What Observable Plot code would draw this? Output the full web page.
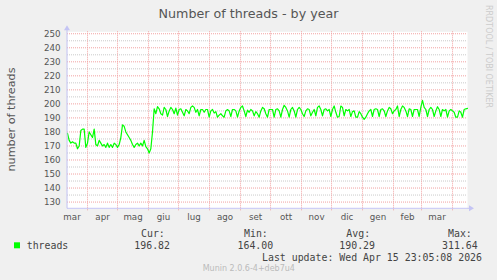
<!DOCTYPE html>
<html>
<head>
<meta charset="utf-8">
<script src="https://cdn.jsdelivr.net/npm/d3@7"></script>
<script src="https://cdn.jsdelivr.net/npm/@observablehq/plot@0.6"></script>
<style>
  html, body { margin: 0; padding: 0; background: #f0f0f0; }
  svg { display: block; }
</style>
</head>
<body>
<div id="chart"></div>
<script>
// ---- data ----
const seriesName = "threads";
const startTime = new Date(2025, 2, 11, 23, 5);   // 400 days before last update
const endTime = new Date(2026, 3, 15, 23, 5);
const stepHours = 40;
const values = [
  179,174,172,173,172,172,168,170,181,182,
  182,169,172,180,178,176,182,171,170,174,
  172,170,171,169,172,169,171,169,172,171,
  169,171,176,185,184,180,178,176,174,171,
  169,171,172,170,172,170,174,
  169.5,168,165,168,180,196.5,193,198,196.5,193,
  192,197.5,196,191,195,197.5,196,193,197,192,
  196,196.5,194,191.5,196,195,193,197.5,198.5,197.5,
  194,196,191.5,196,196,194,196,196,190.5,195,
  196,193.5,194.5,190.5,192,193,191.5,190.5,195,196,
  195,191,196,196,195,190.5,195,197.5,198.5,195,
  191,195.5,194,
  196,195,191.5,194.5,193,190.5,195,197.5,196.5,193,
  190.5,196,196,196,190.5,196,196.5,195,190.5,196,
  199,197.5,195,190.5,196,197.5,195,190.5,196,197.5,
  196,193,191,195,196.5,196,191.5,194,196,191.5,
  197.5,198.5,196,191.5,196,196.5,195,196,191,196,
  198.5,194,190.5,191,198.5,197.5,191.5,196,195,196,
  191,194.5,195,
  190.5,190.5,194.5,193,190.5,189,190.5,193,195,196,
  191,196,196.5,196,191,196,196.5,195,191,195,
  197.5,196.5,193,195,196,198.5,191,196,198.5,197.5,
  195,191,196.5,196,191,196,196,196,191,197.5,
  202.5,197.5,196,191,196,197.5,196,191,195,198,
  196,191,196,195,196,190.5,195,196,195,194,
  190.5,190.5,195,194,190.5,196,196.5,
  196.8
];
const monthLabels = ["mar","apr","mag","giu","lug","ago","set","ott","nov","dic","gen","feb","mar"];
const yMajorTicks = [130,140,150,160,170,180,190,200,210,220,230,240,250];
const yMinorTicks = [135,145,155,165,175,185,195,205,215,225,235,245];
const yDomain = [125.2, 251.4];
const legendHeaders = ["Cur:", "Min:", "Avg:", "Max:"];
const legendValues = ["196.82", "164.00", "190.29", "311.64"];
const titleText = "Number of threads - by year";
const yLabel = "number of threads";
const lastUpdate = "Last update: Wed Apr 15 23:05:08 2026";
const footerText = "Munin 2.0.6-4+deb7u4";
const sideText = "RRDTOOL / TOBI OETIKER";

// ---- derived ----
const data = values.map((v, i) => ({date: new Date(+startTime + i * stepHours * 3600e3), value: v}));
const monthStarts = d3.timeMonth.range(new Date(2025, 3, 1), new Date(2026, 3, 2));
const monthMids = d3.timeMonth.range(new Date(2025, 2, 1), new Date(2026, 3, 1))
  .map(d => new Date((+d + +d3.timeMonth.offset(d, 1)) / 2));

const green = "#00ff00";
const red = "#f2a2a2";
const gray = "#cacaca";
const axisColor = "#c4c4f4";
const textColor = "#555";

const chart = Plot.plot({
  width: 497,
  height: 280,
  marginLeft: 67,
  marginRight: 30,
  marginTop: 31.3,
  marginBottom: 71.7,
  style: {background: "#f0f0f0", fontFamily: "DejaVu Sans", fontSize: "8.7px", color: textColor, overflow: "visible"},
  x: {type: "time", domain: [startTime, endTime], axis: null},
  y: {domain: yDomain},
  marks: [
    Plot.frame({fill: "white", stroke: null}),
    Plot.gridY(yMinorTicks, {stroke: gray, strokeOpacity: 1, strokeDasharray: "1,1"}),
    Plot.gridY(yMajorTicks, {stroke: red, strokeOpacity: 1, strokeDasharray: "1,1"}),
    Plot.gridX(monthStarts, {stroke: red, strokeOpacity: 1, strokeDasharray: "1,1", insetBottom: -2.5}),
    Plot.axisY(yMajorTicks, {tickSize: 0, tickPadding: 7, fill: textColor, fontSize: 8.7, label: null}),
    Plot.text(monthLabels, {x: (d, i) => monthMids[i], text: d => d, frameAnchor: "bottom", lineAnchor: "top", dy: 5.5, fill: textColor, fontSize: 8.7}),
    Plot.line(data, {x: "date", y: "value", stroke: green, strokeWidth: 1.2})
  ]
});
document.getElementById("chart").appendChild(chart);

// ---- axis lines with arrows, titles, legend ----
const svg = d3.select(chart);
const xs = chart.scale("x"), ys = chart.scale("y");
const x0 = xs.range[0], x1 = xs.range[1];
const y0 = ys.range[0], y1 = ys.range[1];
const g = svg.append("g");
g.append("line").attr("x1", x0).attr("x2", x1 + 4).attr("y1", y0).attr("y2", y0).attr("stroke", axisColor).attr("stroke-width", 1);
g.append("path").attr("d", `M${x1 + 2},${y0 - 3}L${x1 + 7},${y0}L${x1 + 2},${y0 + 3}Z`).attr("fill", axisColor);
g.append("line").attr("x1", x0).attr("x2", x0).attr("y1", y0).attr("y2", y1 - 2).attr("stroke", axisColor).attr("stroke-width", 1);
g.append("path").attr("d", `M${x0 - 3},${y1 - 1}L${x0},${y1 - 6}L${x0 + 3},${y1 - 1}Z`).attr("fill", axisColor);

const sans = "DejaVu Sans", mono = "DejaVu Sans Mono";
svg.append("text").attr("x", 248.5).attr("y", 17.7).attr("text-anchor", "middle")
  .attr("font-family", sans).attr("font-size", 12.7).attr("fill", textColor).text(titleText);
svg.append("text").attr("transform", "translate(11.5,119.5) rotate(-90)").attr("dy", "0.35em")
  .attr("text-anchor", "middle").attr("font-family", sans).attr("font-size", 11.2).attr("fill", textColor).text(yLabel);
svg.append("text").attr("transform", "translate(488.7,5) rotate(90)").attr("dy", "0.35em")
  .attr("text-anchor", "start").attr("font-family", sans).attr("font-size", 8).attr("fill", "#cccccc").text(sideText);

const legendColor = "#444";
const addText = (t, x, y, family, size, fill) =>
  svg.append("text").attr("x", x).attr("y", y).attr("text-anchor", "start")
    .attr("font-family", family).attr("font-size", size).attr("fill", fill).text(t);
svg.append("rect").attr("x", 14).attr("y", 242.3).attr("width", 6).attr("height", 6).attr("fill", green);
addText(seriesName, 26.7, 249, mono, 9.9, legendColor);
const headerX = [141, 244, 346.3, 448];
const valueX = [134.3, 237.5, 339.3, 442];
legendHeaders.forEach((t, i) => addText(t, headerX[i], 236.7, mono, 9.9, legendColor));
legendValues.forEach((t, i) => addText(t, valueX[i], 249, mono, 9.9, legendColor));
addText(lastUpdate, 262, 260.7, mono, 9.9, legendColor);
addText(footerText, 202.7, 270.7, sans, 8, "#bbbbbb");
</script>
</body>
</html>
